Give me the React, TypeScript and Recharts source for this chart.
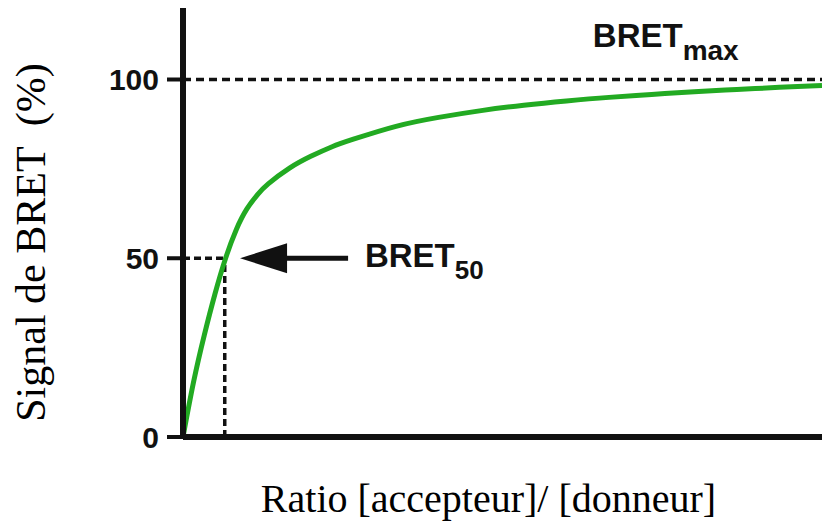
import { LineChart, Line, XAxis, YAxis, ReferenceLine, ReferenceDot, Label } from "recharts"

// values (ratio accepteur/donneur vs BRET signal %)
const ratio = [0, 0.25, 0.5, 0.75, 1, 1.25, 1.5, 1.75, 2, 2.5, 3, 3.5, 4, 5, 6, 7, 8, 9, 10, 11, 12, 13, 14, 15]
const signal = [0, 15.5, 28.5, 40, 50, 58, 63.8, 67.8, 70.8, 75.2, 78.5, 81.2, 83.3, 86.9, 89.4, 91.3, 92.8, 94, 95, 95.8, 96.6, 97.2, 97.8, 98.3]
const yTicks = [0, 50, 100]
const bretMax = 100
const bret50 = 50
const bret50Ratio = 0.98

const data = ratio.map((r, i) => ({ ratio: r, signal: signal[i] }))

const sans = "Liberation Sans, Arial, sans-serif"
const serif = "Liberation Serif, Times New Roman, serif"
const ink = "#111"

function Arrow(props: any) {
  const { cx, cy } = props
  return (
    <g>
      <polygon points={`${cx},${cy} ${cx + 47},${cy - 15} ${cx + 47},${cy + 15}`} fill={ink} />
      <rect x={cx + 40} y={cy - 2.5} width={68} height={5} fill={ink} />
    </g>
  )
}

function subLabel(main: string, sub: string, dy: number, subSize: number, subDy: number) {
  return (props: any) => (
    <text x={props.cx} y={props.cy + dy} fontFamily={sans} fontWeight="bold" fontSize={33} fill={ink}>
      {main}
      <tspan fontSize={subSize} dy={subDy}>{sub}</tspan>
    </text>
  )
}

export default function App() {
  return (
    <div style={{ position: "absolute", left: 0, top: 0 }}>
      <LineChart width={822} height={527} data={data} margin={{ top: 8, right: 0, bottom: 0, left: 0 }}>
        <XAxis
          dataKey="ratio"
          type="number"
          domain={[0, 15]}
          tick={false}
          tickLine={false}
          height={90}
          axisLine={{ stroke: ink, strokeWidth: 6 }}
        >
          <Label
            content={(p: any) => (
              <text
                x={p.viewBox.x + p.viewBox.width / 2 - 14}
                y={p.viewBox.y + 75}
                textAnchor="middle"
                fontFamily={serif}
                fontSize={40}
                fill="#000"
              >
                Ratio [accepteur]/ [donneur]
              </text>
            )}
          />
        </XAxis>
        <YAxis
          type="number"
          domain={[0, 120]}
          ticks={yTicks}
          width={183}
          tickSize={16}
          tickMargin={8}
          axisLine={{ stroke: ink, strokeWidth: 6 }}
          tickLine={{ stroke: ink, strokeWidth: 4 }}
          tick={{ fontSize: 30, fontWeight: "bold", fill: ink, fontFamily: sans }}
        >
          <Label
            content={(p: any) => {
              const x = p.viewBox.x + 45
              const y = p.viewBox.y + p.viewBox.height / 2 + 20
              return (
                <text
                  x={x}
                  y={y}
                  transform={`rotate(-90 ${x} ${y})`}
                  textAnchor="middle"
                  fontFamily={serif}
                  fontSize={42}
                  fill="#000"
                  style={{ whiteSpace: "pre" }}
                >
                  Signal de BRET  (%)
                </text>
              )
            }}
          />
        </YAxis>
        <ReferenceLine y={bretMax} stroke={ink} strokeWidth={3.5} strokeDasharray="8 5" />
        <ReferenceLine
          segment={[{ x: 0, y: bret50 }, { x: bret50Ratio, y: bret50 }]}
          stroke={ink}
          strokeWidth={3.5}
          strokeDasharray="7 4"
        />
        <ReferenceLine
          segment={[{ x: bret50Ratio, y: 0 }, { x: bret50Ratio, y: bret50 }]}
          stroke={ink}
          strokeWidth={3.5}
          strokeDasharray="7 4"
        />
        <Line
          type="natural"
          dataKey="signal"
          stroke="#22aa22"
          strokeWidth={5}
          dot={false}
          isAnimationActive={false}
        />
        <ReferenceDot x={1.34} y={bret50} r={0} shape={Arrow} />
        <ReferenceDot x={4.27} y={bret50} r={0} shape={subLabel("BRET", "50", 9, 26, 12)} />
        <ReferenceDot x={9.62} y={bretMax} r={0} shape={subLabel("BRET", "max", -33, 28, 13)} />
      </LineChart>
    </div>
  )
}
